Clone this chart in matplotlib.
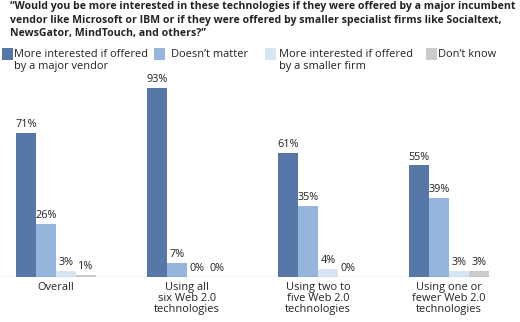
import matplotlib
matplotlib.use("Agg")
from matplotlib import pyplot as plt
from matplotlib.patches import Rectangle

plt.rcParams['font.family'] = ['Open Sans', 'DejaVu Sans']

title = ("\u201cWould you be more interested in these technologies if they were offered by a major incumbent\n"
         "vendor like Microsoft or IBM or if they were offered by smaller specialist firms like Socialtext,\n"
         "NewsGator, MindTouch, and others?\u201d")

categories = ["Overall", "Using all\nsix Web 2.0\ntechnologies",
              "Using two to\nfive Web 2.0\ntechnologies",
              "Using one or\nfewer Web 2.0\ntechnologies"]
series_names = ["More interested if offered\nby a major vendor", "Doesn\u2019t matter",
                "More interested if offered\nby a smaller firm", "Don\u2019t know"]
major_vendor = [71, 93, 61, 55]
doesnt_matter = [26, 7, 35, 39]
smaller_firm = [3, 0, 4, 3]
dont_know = [1, 0, 0, 3]
series = [major_vendor, doesnt_matter, smaller_firm, dont_know]
colors = ["#5678a8", "#96b5dd", "#d8e5f2", "#cbcbcb"]

W, H = 520, 322
fig = plt.figure(figsize=(W / 100, H / 100), dpi=100)

# axes placed in pixel terms: baseline at y=277, x from 0 to 493
base_px = 277
px_per_pct = 2.03
ax = fig.add_axes([0, (H - base_px) / H, 493 / W, 100 * px_per_pct / H])
ax.set_ylim(0, 100)
group_px = 131
bar_w = 20 / group_px
ax.set_xlim(-56 / group_px, (493 - 56) / group_px)

for s, (vals, col) in enumerate(zip(series, colors)):
    for g, v in enumerate(vals):
        x = g + (s - 2) * bar_w
        ax.bar(x, v, width=bar_w, align="edge", color=col, linewidth=0)
        ax.text(x + bar_w / 2, v + 1.4, f"{v}%", ha="center", va="bottom",
                fontsize=7.8, color="#222222")

for g, cat in enumerate(categories):
    ax.text(g, -2.3, cat, ha="center", va="top", fontsize=7.9,
            color="#222222", linespacing=1.0)

ax.axhline(0, color="#555555", linewidth=0.8)
ax.set_axis_off()

fig.text(10 / W, 1 - 1 / H, title, ha="left", va="top", fontsize=7.6,
         fontweight="bold", color="#222222", linespacing=1.32)

leg_x = [2, 154, 265, 426]
leg_tx = [14, 171, 279, 438]
for name, col, lx, tx in zip(series_names, colors, leg_x, leg_tx):
    fig.patches.append(Rectangle((lx / W, 1 - 60 / H), 11 / W, 12 / H,
                                 transform=fig.transFigure, color=col, linewidth=0))
    fig.text(tx / W, 1 - 49 / H, name, ha="left", va="top",
             fontsize=7.9, color="#222222", linespacing=1.1)

fig.savefig("out.png", dpi=100)
